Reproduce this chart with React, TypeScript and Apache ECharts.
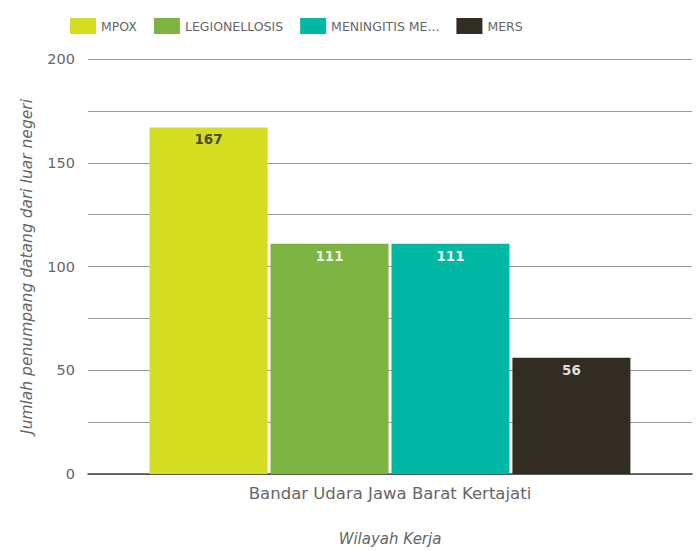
import React, { useEffect, useRef } from "react";
import * as echarts from "echarts";

const categories = ["Bandar Udara Jawa Barat Kertajati"];
const seriesNames = ["MPOX", "LEGIONELLOSIS", "MENINGITIS MENINGOKOKUS", "MERS"];
const seriesValues = [[167], [111], [111], [56]];
const seriesColors = ["#d5dd20", "#7cb342", "#00b8a4", "#322d22"];
const labelColors = ["#4a4a35", "#eef3e6", "#e9f7f3", "#dddddd"];
const yTicks = [0, 50, 100, 150, 200];

export default function App() {
  const ref = useRef<HTMLDivElement>(null);
  useEffect(() => {
    if (!ref.current) return;
    document.body.style.margin = "0";
    const chart = echarts.init(ref.current, null, { renderer: "svg" });
    const font = "'DejaVu Sans', 'Noto Sans', sans-serif";
    chart.setOption({
      animation: false,
      textStyle: { fontFamily: font },
      legend: {
        left: 65,
        top: 13,
        itemWidth: 26,
        itemHeight: 16,
        itemGap: 17,
        icon: "rect",
        textStyle: { color: "#666", fontSize: 12.5, fontFamily: font },
        formatter: (n: string) => (n.length > 14 ? n.slice(0, 13) + "..." : n),
      },
      grid: { left: 88, right: 5, top: 59, bottom: 76 },
      xAxis: {
        type: "category",
        data: categories,
        name: "Wilayah Kerja",
        nameLocation: "middle",
        nameGap: 57,
        nameTextStyle: { fontStyle: "italic", color: "#666", fontSize: 15, fontFamily: font },
        axisLine: { lineStyle: { color: "#444", width: 1.5 } },
        axisTick: { show: false },
        axisLabel: { color: "#666", fontSize: 16.5, margin: 11, fontFamily: font },
      },
      yAxis: {
        type: "value",
        min: yTicks[0],
        max: yTicks[yTicks.length - 1],
        interval: 25,
        name: "Jumlah penumpang datang dari luar negeri",
        nameLocation: "middle",
        nameGap: 53,
        nameTextStyle: { fontStyle: "italic", color: "#666", fontSize: 15.5, fontFamily: font },
        axisLine: { show: false },
        axisTick: { show: false },
        axisLabel: {
          color: "#666",
          fontSize: 14.5,
          margin: 13,
          fontFamily: font,
          formatter: (v: number) => (yTicks.includes(v) ? String(v) : ""),
        },
        splitLine: { lineStyle: { color: "#999", width: 1 } },
      },
      series: seriesNames.map((name, i) => ({
        name,
        type: "bar",
        data: seriesValues[i],
        barWidth: 118,
        barGap: "2.5%",
        itemStyle: { color: seriesColors[i] },
        label: {
          show: true,
          position: "insideTop",
          distance: 5,
          color: labelColors[i],
          fontSize: 13.5,
          fontWeight: "bold",
          fontFamily: font,
        },
      })),
    });
    return () => chart.dispose();
  }, []);
  return (
    <div
      ref={ref}
      style={{ position: "absolute", left: 0, top: 0, width: 697, height: 551, background: "#fff" }}
    />
  );
}
